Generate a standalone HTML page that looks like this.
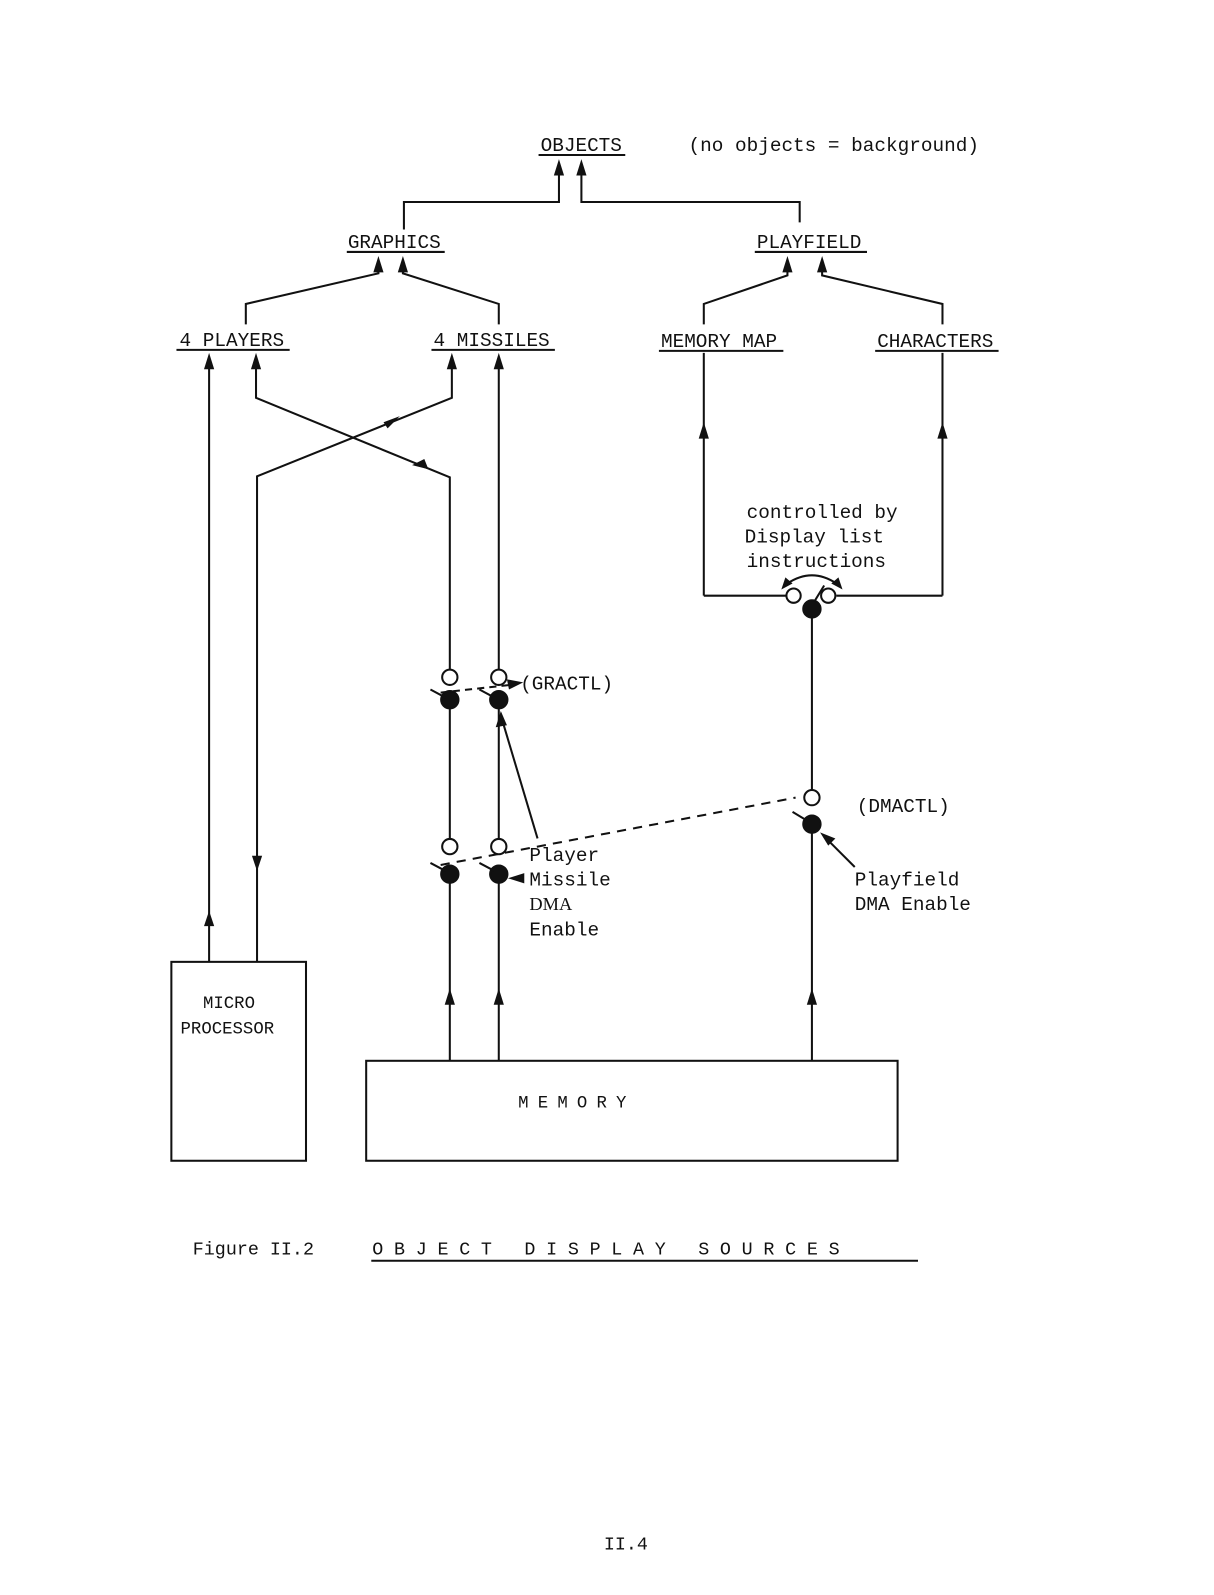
<!DOCTYPE html>
<html><head><meta charset="utf-8"><style>
html,body{margin:0;padding:0;background:#fff;}
svg{display:block;}
text{font-family:"Liberation Mono",monospace;font-size:19px;fill:#111;}
</style></head><body>
<svg width="1214" height="1595" viewBox="0 0 1214 1595" xmlns="http://www.w3.org/2000/svg">
<defs>
<marker id="a" markerWidth="10" markerHeight="14" refX="5" refY="1" orient="auto-start-reverse" markerUnits="userSpaceOnUse" viewBox="0 0 10 14"><path d="M0,14 L5,0 L10,14 Z" fill="#111"/></marker>
</defs>
<g transform="scale(1.02)" stroke="#111" stroke-width="2" fill="none">
<!-- top level -->
<text x="530" y="148" stroke="none">OBJECTS</text>
<line x1="528" y1="152" x2="613" y2="152"/>
<text x="675" y="148" stroke="none">(no objects = background)</text>
<polyline points="396,225 396,198 548,198 548,162"/>
<polygon points="543,172 548,156 553,172" fill="#111" stroke="none"/>
<polyline points="784,218 784,198 570,198 570,162"/>
<polygon points="565,172 570,156 575,172" fill="#111" stroke="none"/>

<text x="341" y="243" stroke="none">GRAPHICS</text>
<line x1="340" y1="247" x2="436" y2="247"/>
<polyline points="241,318 241,298 371,268 371,258"/>
<polygon points="366,267 371,251 376,267" fill="#111" stroke="none"/>
<polyline points="489,318 489,298 395,268 395,258"/>
<polygon points="390,267 395,251 400,267" fill="#111" stroke="none"/>

<text x="742" y="243" stroke="none">PLAYFIELD</text>
<line x1="740" y1="247" x2="850" y2="247"/>
<polyline points="690,318 690,298 772,270 772,258"/>
<polygon points="767,267 772,251 777,267" fill="#111" stroke="none"/>
<polyline points="924,318 924,298 806,270 806,258"/>
<polygon points="801,267 806,251 811,267" fill="#111" stroke="none"/>

<text x="176" y="339" stroke="none">4 PLAYERS</text>
<line x1="173" y1="343" x2="284" y2="343"/>
<text x="425" y="339" stroke="none">4 MISSILES</text>
<line x1="423" y1="343" x2="544" y2="343"/>
<text x="648" y="340" stroke="none">MEMORY MAP</text>
<line x1="646" y1="344" x2="768" y2="344"/>
<text x="860" y="340" stroke="none">CHARACTERS</text>
<line x1="858" y1="344" x2="979" y2="344"/>

<!-- players / missiles lines -->
<line x1="205" y1="943" x2="205" y2="356"/>
<polygon points="200,362 205,346 210,362" fill="#111" stroke="none"/>
<polygon points="200,908 205,893 210,908" fill="#111" stroke="none"/>
<polyline points="252,943 252,467 443,390 443,356"/>
<polygon points="438,362 443,346 448,362" fill="#111" stroke="none"/>
<polygon points="252,838 257,853 247,853" fill="#111" stroke="none" transform="rotate(180 252 846)"/>
<polygon points="376,414 392,408 380,420" fill="#111" stroke="none"/>
<polyline points="441,658 441,468 251,390 251,356"/>
<polygon points="246,362 251,346 256,362" fill="#111" stroke="none"/>
<polygon points="420,460 404,456 416,450" fill="#111" stroke="none"/>
<line x1="489" y1="658" x2="489" y2="356"/>
<polygon points="484,362 489,346 494,362" fill="#111" stroke="none"/>

<!-- GRACTL switches -->
<circle cx="441" cy="664" r="7.5" fill="#fff"/>
<circle cx="489" cy="664" r="7.5" fill="#fff"/>
<circle cx="441" cy="686" r="8.5" fill="#111"/>
<circle cx="489" cy="686" r="8.5" fill="#111"/>
<line x1="422" y1="676" x2="437" y2="684"/>
<line x1="470" y1="676" x2="485" y2="684"/>
<line x1="432" y1="679" x2="505" y2="671" stroke-dasharray="7,5"/>
<polygon points="497,666 513,669 499,676" fill="#111" stroke="none"/>
<text x="510" y="676" stroke="none">(GRACTL)</text>
<line x1="441" y1="694" x2="441" y2="822"/>
<line x1="489" y1="694" x2="489" y2="822"/>
<line x1="527" y1="822" x2="493" y2="708"/>
<polygon points="486,713 491,697 497,711" fill="#111" stroke="none"/>

<!-- DMA switches -->
<circle cx="441" cy="830" r="7.5" fill="#fff"/>
<circle cx="489" cy="830" r="7.5" fill="#fff"/>
<circle cx="441" cy="857" r="8.5" fill="#111"/>
<circle cx="489" cy="857" r="8.5" fill="#111"/>
<line x1="422" y1="846" x2="437" y2="854"/>
<line x1="470" y1="846" x2="485" y2="854"/>
<line x1="432" y1="848" x2="780" y2="782" stroke-dasharray="9,7"/>
<line x1="441" y1="866" x2="441" y2="1040"/>
<line x1="489" y1="866" x2="489" y2="1040"/>
<polygon points="436,985 441,969 446,985" fill="#111" stroke="none"/>
<polygon points="484,985 489,969 494,985" fill="#111" stroke="none"/>
<polygon points="514,856 498,861 514,866" fill="#111" stroke="none"/>
<text x="519" y="844" stroke="none">Player</text>
<text x="519" y="868" stroke="none">Missile</text>
<text x="519" y="892" stroke="none" style="font-family:'Liberation Serif',serif;font-size:18px">DMA</text>
<text x="519" y="917" stroke="none">Enable</text>

<!-- playfield -->
<line x1="690" y1="346" x2="690" y2="584"/>
<polygon points="685,430 690,414 695,430" fill="#111" stroke="none"/>
<line x1="690" y1="584" x2="771" y2="584"/>
<line x1="924" y1="346" x2="924" y2="584"/>
<polygon points="919,430 924,414 929,430" fill="#111" stroke="none"/>
<line x1="820" y1="584" x2="924" y2="584"/>
<text x="732" y="508" stroke="none">controlled by</text>
<text x="730" y="532" stroke="none">Display list</text>
<text x="732" y="556" stroke="none">instructions</text>
<path d="M772,572 Q796,556 820,572"/>
<polygon points="766,578 770,566 777,572" fill="#111" stroke="none"/>
<polygon points="826,578 822,566 815,572" fill="#111" stroke="none"/>
<circle cx="778" cy="584" r="7" fill="#fff"/>
<circle cx="812" cy="584" r="7" fill="#fff"/>
<line x1="797" y1="592" x2="808" y2="574"/>
<circle cx="796" cy="597" r="8.5" fill="#111"/>
<line x1="796" y1="605" x2="796" y2="774"/>
<circle cx="796" cy="782" r="7.5" fill="#fff"/>
<circle cx="796" cy="808" r="8.5" fill="#111"/>
<line x1="777" y1="796" x2="792" y2="805"/>
<text x="840" y="796" stroke="none">(DMACTL)</text>
<line x1="796" y1="816" x2="796" y2="1040"/>
<polygon points="791,985 796,969 801,985" fill="#111" stroke="none"/>
<line x1="838" y1="850" x2="810" y2="822"/>
<polygon points="804,816 819,822 812,829" fill="#111" stroke="none"/>
<text x="838" y="868" stroke="none">Playfield</text>
<text x="838" y="892" stroke="none">DMA Enable</text>

<!-- boxes -->
<rect x="168" y="943" width="132" height="195"/>
<text x="199" y="988" stroke="none" style="font-size:17px">MICRO</text>
<text x="177" y="1013" stroke="none" style="font-size:17px">PROCESSOR</text>
<rect x="359" y="1040" width="521" height="98"/>
<text x="508" y="1086" stroke="none" style="font-size:17px;letter-spacing:9px">MEMORY</text>

<text x="189" y="1230" stroke="none" style="font-size:18px">Figure II.2</text>
<text x="365" y="1230" stroke="none" style="font-size:18px;letter-spacing:10.5px">OBJECT  DISPLAY  SOURCES</text>
<line x1="364" y1="1236" x2="900" y2="1236"/>
<text x="592" y="1519" stroke="none" style="font-size:18px">II.4</text>
</g>
</svg>
</body></html>
